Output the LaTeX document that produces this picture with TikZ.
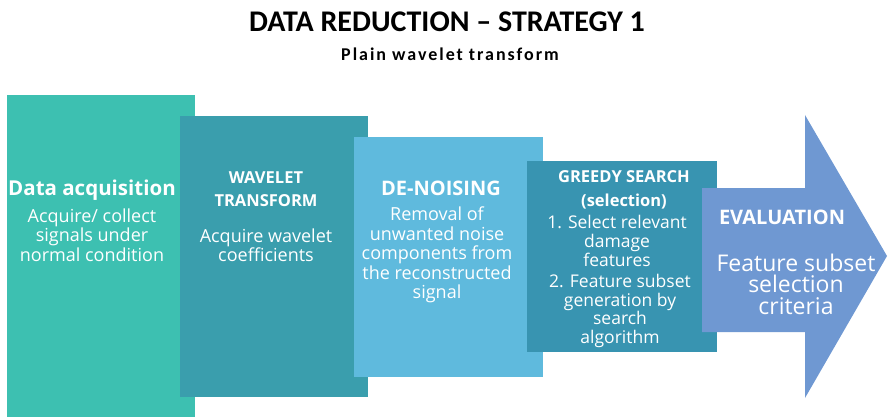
\documentclass[tikz,border=0pt]{standalone}
\usepackage{fontspec}
\setmainfont{Open Sans}
\newfontfamily\titlefont{Carlito}
\usepackage{xcolor}
\usepackage{tikz}
\usetikzlibrary{positioning}

\definecolor{acqcol}{HTML}{3DC0B1}
\definecolor{wavecol}{HTML}{3A9EAD}
\definecolor{noisecol}{HTML}{5FBADD}
\definecolor{greedycol}{HTML}{3894B1}
\definecolor{evalcol}{HTML}{6F98D2}

\begin{document}
\begin{tikzpicture}[
    x=1pt, y=-1pt,
    stagebox/.style={rectangle, inner sep=0pt, outer sep=0pt},
    headtext/.style={text=white, align=center, inner sep=0pt, font=\bfseries\fontsize{16.5}{23}\selectfont},
    bodytext/.style={text=white, align=center, inner sep=0pt, font=\fontsize{18}{19.5}\selectfont}
]
\useasboundingbox (0,0) rectangle (889,417);

% title
\node[font=\titlefont\bfseries\fontsize{30}{32}\selectfont, inner sep=0pt] (title) at (447,22) {DATA REDUCTION \textendash{} STRATEGY 1};
\node[font=\titlefont\bfseries\fontsize{18}{20}\selectfont\addfontfeatures{LetterSpace=11}, inner sep=0pt] (subtitle) at (450,54) {Plain wavelet transform};

% stage boxes
\node[stagebox, fill=acqcol, minimum width=188pt, minimum height=322pt] (acq) at (101,256) {};
\node[stagebox, fill=wavecol, minimum width=188pt, minimum height=281pt] (wave) at (274,256.5) {};
\node[stagebox, fill=noisecol, minimum width=189pt, minimum height=240pt] (noise) at (448.5,257) {};
\node[stagebox, fill=greedycol, minimum width=190pt, minimum height=191pt] (greedy) at (622,256.5) {};
\fill[evalcol] (702,188) -- (805,188) -- (805,115) -- (887,256) -- (805,398) -- (805,332) -- (702,332) -- cycle;

% texts
\node[headtext, font=\bfseries\fontsize{20.5}{23}\selectfont] (acqhead) at (92,190) {Data acquisition};
\node[bodytext] (acqbody) at (92,235) {Acquire/ collect\\ signals under\\ normal condition};

\node[headtext] (wavehead) at (266,189.5) {WAVELET\\ TRANSFORM};
\node[bodytext] (wavebody) at (266,245) {Acquire wavelet\\ coefficients};

\node[headtext, font=\bfseries\fontsize{20}{23}\selectfont] (noisehead) at (441,188) {DE-NOISING};
\node[bodytext] (noisebody) at (437,255) {Removal of\\ unwanted noise\\ components from\\ the reconstructed\\ signal};

\node[headtext, font=\bfseries\fontsize{16.5}{24}\selectfont] (greedyhead) at (624,189.5) {GREEDY SEARCH\\ (selection)};
\node[bodytext, font=\fontsize{17.5}{19}\selectfont] (greedyone) at (617,241) {1. Select relevant\\ damage\\ features};
\node[bodytext, font=\fontsize{17.5}{18.5}\selectfont] (greedytwo) at (620,311) {2. Feature subset\\ generation by\\ search\\ algorithm};

\node[headtext, font=\bfseries\fontsize{20}{23}\selectfont] (evalhead) at (782,217) {EVALUATION};
\node[bodytext, font=\fontsize{23}{21.5}\selectfont] (evalbody) at (796,284) {Feature subset\\ selection\\ criteria};
\end{tikzpicture}
\end{document}
